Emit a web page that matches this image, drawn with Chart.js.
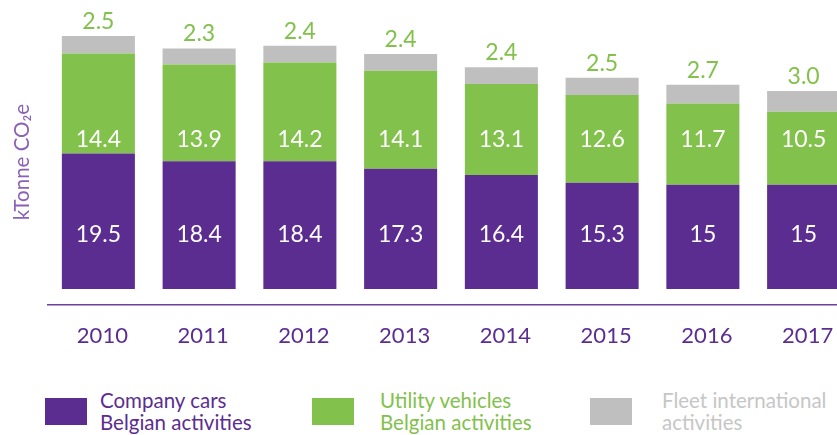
<!DOCTYPE html>
<html lang="en">
<head>
<meta charset="UTF-8">
<title>Fleet CO2 emissions</title>
<script src="https://cdn.jsdelivr.net/npm/chart.js"></script>
<style>
    html, body { margin: 0; padding: 0; background: #ffffff; overflow: hidden; width: 837px; height: 435px; }
    body { position: relative; font-family: 'Lato', 'Open Sans', sans-serif; }
    .chart-box { position: absolute; left: 0; top: 0; width: 854px; height: 370px; }
    .legend { position: absolute; left: 0; top: 0; }
    .legend-item { position: absolute; }
    .legend-item .swatch { position: absolute; top: 398px; width: 42px; height: 27px; }
    .legend-item .text { position: absolute; top: 389px; font-size: 20.5px; line-height: 22px; white-space: nowrap; }
</style>
</head>
<body>
<div class="chart-box"><canvas id="fleetChart"></canvas></div>
<div class="legend" id="legend"></div>

<script>
const years = ['2010', '2011', '2012', '2013', '2014', '2015', '2016', '2017'];
const companyCars = [19.5, 18.4, 18.4, 17.3, 16.4, 15.3, 15, 15];
const utilityVehicles = [14.4, 13.9, 14.2, 14.1, 13.1, 12.6, 11.7, 10.5];
const fleetInternational = [2.5, 2.3, 2.4, 2.4, 2.4, 2.5, 2.7, 3.0];

const seriesNames = [
    ['Company cars', 'Belgian activities'],
    ['Utility vehicles', 'Belgian activities'],
    ['Fleet international', 'activities']
];

const PURPLE = '#5c2d91';
const GREEN = '#82c14b';
const GREY = '#bfbfbf';
const LABEL_FONT = '23px Lato, "Open Sans", sans-serif';

// legend (html, two-line labels)
const legendPos = [
    { box: 45, text: 100, color: PURPLE },
    { box: 312, text: 380, color: GREEN },
    { box: 590, text: 662, color: '#c6c6c6' }
];
const swatchColors = [PURPLE, GREEN, GREY];
const legendEl = document.getElementById('legend');
seriesNames.forEach((lines, i) => {
    const item = document.createElement('div');
    item.className = 'legend-item';
    item.innerHTML =
        '<div class="swatch" style="left:' + legendPos[i].box + 'px;background:' + swatchColors[i] + '"></div>' +
        '<div class="text" style="left:' + legendPos[i].text + 'px;color:' + legendPos[i].color + '">' +
        lines.join('<br>') + '</div>';
    legendEl.appendChild(item);
});

// value labels: white inside purple/green (fixed height), green above the grey part
const valueLabels = {
    id: 'valueLabels',
    afterDatasetsDraw(chart) {
        const ctx = chart.ctx;
        const y = chart.scales.y;
        ctx.save();
        ctx.font = LABEL_FONT;
        ctx.textAlign = 'center';
        ctx.textBaseline = 'middle';
        const m0 = chart.getDatasetMeta(0);
        const m1 = chart.getDatasetMeta(1);
        const m2 = chart.getDatasetMeta(2);
        years.forEach((yr, i) => {
            ctx.fillStyle = '#ffffff';
            ctx.fillText(String(companyCars[i]), m0.data[i].x, y.getPixelForValue(7.9));
            ctx.fillText(String(utilityVehicles[i]), m1.data[i].x, y.getPixelForValue(21.5));
            ctx.fillStyle = GREEN;
            ctx.fillText(fleetInternational[i].toFixed(1), m2.data[i].x, m2.data[i].y - 14.5);
        });
        ctx.restore();
    }
};

new Chart(document.getElementById('fleetChart'), {
    type: 'bar',
    data: {
        labels: years,
        datasets: [
            { label: seriesNames[0].join(' '), data: companyCars, backgroundColor: PURPLE },
            { label: seriesNames[1].join(' '), data: utilityVehicles, backgroundColor: GREEN },
            { label: seriesNames[2].join(' '), data: fleetInternational, backgroundColor: GREY }
        ]
    },
    options: {
        responsive: true,
        maintainAspectRatio: false,
        animation: false,
        layout: { padding: { top: 19, left: 0, right: 0, bottom: 0 } },
        datasets: { bar: { categoryPercentage: 1, barPercentage: 0.725, borderWidth: 0 } },
        plugins: { legend: { display: false }, tooltip: { enabled: false } },
        scales: {
            x: {
                stacked: true,
                grid: { display: false, drawTicks: false },
                border: { display: true, color: '#6a3f9e', width: 1.5 },
                ticks: { color: PURPLE, font: { family: 'Lato', size: 22 }, padding: 18, labelOffset: 4, maxRotation: 0 },
                afterFit(scale) { scale.height = 65; }
            },
            y: {
                stacked: true,
                min: -2.3,
                max: 38.85,
                grid: { display: false, drawTicks: false },
                border: { display: false },
                ticks: { display: false },
                title: {
                    display: true,
                    text: 'kTonne CO₂e',
                    color: '#8a62b6',
                    font: { family: 'Lato', size: 20.5 },
                    padding: { top: 10, bottom: 0 }
                },
                afterFit(scale) { scale.width = 48; }
            }
        }
    },
    plugins: [valueLabels]
});
</script>
</body>
</html>
